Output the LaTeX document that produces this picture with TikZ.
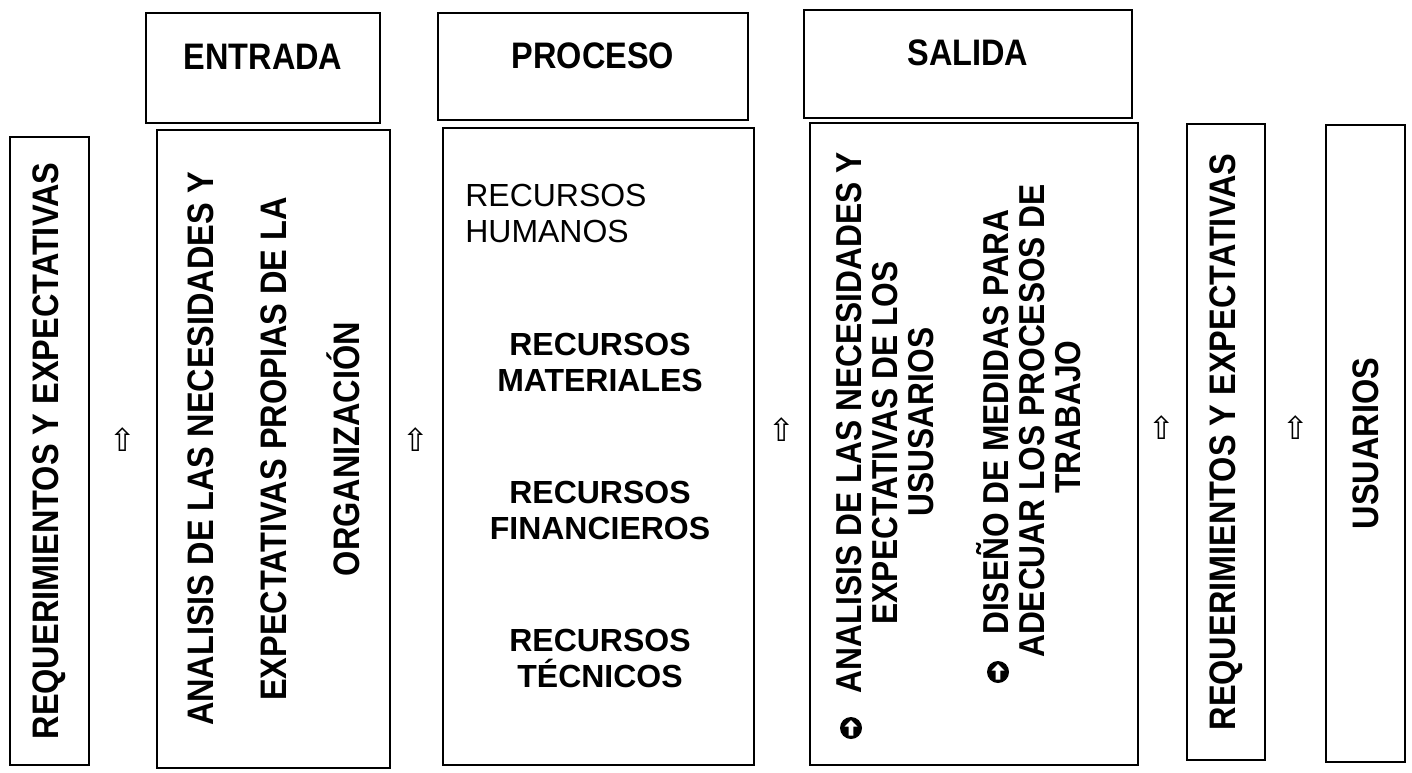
\documentclass[tikz,border=0pt]{standalone}
\usepackage{fontspec}
\setmainfont{Liberation Sans}
\newfontfamily\narrowfont[FakeStretch=0.88]{Liberation Sans}
\newfontfamily\symfont{DejaVu Sans}
\newlength\px
\setlength\px{0.02cm}
\begin{document}
\begin{tikzpicture}[x=0.02cm,y=-0.02cm,
  frame/.style={draw,line width=1.1pt,inner sep=0pt},
  hd/.style={inner sep=0pt,font=\narrowfont\bfseries\fontsize{21}{21}\selectfont},
  vt/.style={inner sep=0pt,rotate=90,align=center,font=\narrowfont\bfseries\fontsize{21}{21}\selectfont},
  sl/.style={inner sep=0pt,rotate=90,anchor=base,font=\narrowfont\bfseries\fontsize{20.5}{20}\selectfont},
  rc/.style={inner sep=0pt,align=center,anchor=north,font=\bfseries\fontsize{18.2}{20.5}\selectfont},
  arr/.style={inner sep=0pt,font=\symfont\fontsize{18}{18}\selectfont},
  bullet/.style={circle,fill=black,inner sep=0pt,minimum size=22*\px}]
\useasboundingbox (0,0) rectangle (1412,772);
% top boxes
\node[frame,minimum width=234*\px,minimum height=110*\px] (entrada) at (263,68) {};
\node[frame,minimum width=310*\px,minimum height=107*\px] (proceso) at (593,66.5) {};
\node[frame,minimum width=328*\px,minimum height=108*\px] (salida) at (968,64) {};
\node[hd] (entradat) at (263,57) {ENTRADA};
\node[hd] (procesot) at (593,56) {PROCESO};
\node[hd] (salidat) at (968,53) {SALIDA};
% bottom boxes
\node[frame,minimum width=79*\px,minimum height=628*\px] (req1) at (49.5,451) {};
\node[frame,minimum width=233*\px,minimum height=638*\px] (ana) at (273.5,449) {};
\node[frame,minimum width=311*\px,minimum height=637*\px] (pro) at (598.5,446.5) {};
\node[frame,minimum width=328*\px,minimum height=642*\px] (sal) at (974,444) {};
\node[frame,minimum width=78*\px,minimum height=636*\px] (req2) at (1226,442) {};
\node[frame,minimum width=79*\px,minimum height=637*\px] (usu) at (1365.5,443.5) {};
% texts
\node[vt] (req1t) at (req1) {REQUERIMIENTOS Y EXPECTATIVAS};
\node[vt,font=\narrowfont\bfseries\fontsize{21}{41.5}\selectfont] (anat) at (ana)
  {ANALISIS DE LAS NECESIDADES Y\\EXPECTATIVAS PROPIAS DE LA\\ORGANIZACIÓN};
\node[inner sep=0pt,anchor=north west,align=left,font=\fontsize{18.2}{20.5}\selectfont] (hum) at (465,184) {RECURSOS\\HUMANOS};
\node[rc] (mat) at (600,333) {RECURSOS\\MATERIALES};
\node[rc] (fin) at (600,481) {RECURSOS\\FINANCIEROS};
\node[rc] (tec) at (600,629) {RECURSOS\\TÉCNICOS};
% salida lines
\node[sl] (s11) at (861,423) {ANALISIS DE LAS NECESIDADES Y};
\node[sl] (s12) at (897,443) {EXPECTATIVAS DE LOS};
\node[sl] (s13) at (933,422) {USUSARIOS};
\node[sl] (s21) at (1008,422) {DISEÑO DE MEDIDAS PARA};
\node[sl] (s22) at (1044,421) {ADECUAR LOS PROCESOS DE};
\node[sl] (s23) at (1080,417) {TRABAJO};
\node[vt] (req2t) at (req2) {REQUERIMIENTOS Y EXPECTATIVAS};
\node[vt] (usut) at (usu) {USUARIOS};
% bullets
\node[bullet] (b1) at (851,728) {};
\node[bullet] (b2) at (998,672) {};
\foreach \b in {b1,b2}{
  \begin{scope}[shift={(\b)}]
    \fill[white] (0,-8) -- (-6.5,-1.5) -- (-2.3,-1.5) -- (-2.3,7.5) -- (2.3,7.5) -- (2.3,-1.5) -- (6.5,-1.5) -- cycle;
  \end{scope}
}
% arrows
\node[arr] (a1) at (123,440) {⇧};
\node[arr] (a2) at (416,440) {⇧};
\node[arr] (a3) at (782,430) {⇧};
\node[arr] (a4) at (1162,428) {⇧};
\node[arr] (a5) at (1296,428) {⇧};
\end{tikzpicture}
\end{document}
